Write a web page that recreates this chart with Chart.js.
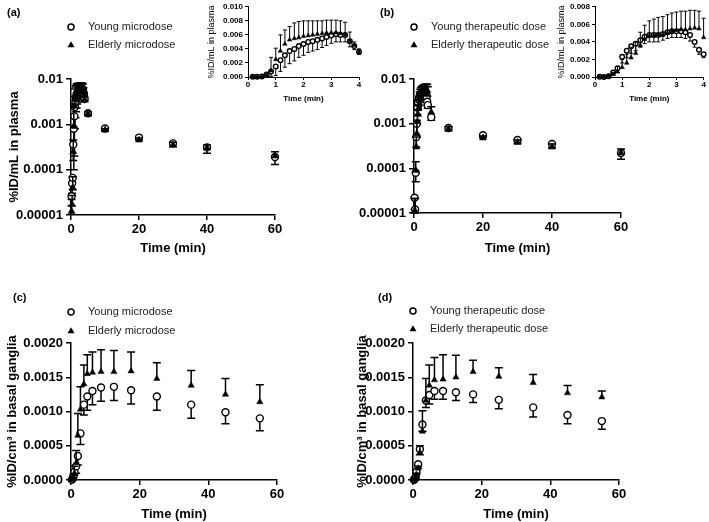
<!DOCTYPE html>
<html>
<head>
<meta charset="utf-8">
<script src="https://cdn.jsdelivr.net/npm/chart.js@4.4.1/dist/chart.umd.min.js"></script>
<style>
body { margin: 0; background: #fff; }
#wrap { position: relative; width: 709px; height: 522px; overflow: hidden; }
canvas { position: absolute; }
</style>
</head>
<body>
<div id="wrap">
  <canvas id="panelA" width="350" height="260" style="left:0;top:0"></canvas>
  <canvas id="panelB" width="354" height="260" style="left:355px;top:0"></canvas>
  <canvas id="panelC" width="355" height="252" style="left:0;top:270px"></canvas>
  <canvas id="panelD" width="354" height="252" style="left:355px;top:270px"></canvas>
  <canvas id="insetA" width="165" height="105" style="left:200px;top:0"></canvas>
  <canvas id="insetB" width="159" height="105" style="left:550px;top:0"></canvas>
</div>
<script>
// plasma time points (min)
const plasmaTime = [0.17, 0.33, 0.5, 0.67, 0.83, 1, 1.17, 1.33, 1.5, 1.67, 1.83, 2, 2.17, 2.33, 2.5, 2.67, 2.83, 3, 3.17, 3.33, 3.5, 3.67, 3.83, 4, 5, 10, 20, 30, 40, 60];
const insetCount = 24; // points up to 4 min shown in the insets

// (a) microdose plasma
const youngMicroPlasma = [0.000026, 0.00005, 0.000066, 0.00036, 0.0008, 0.0015, 0.0024, 0.0031, 0.0037, 0.0040, 0.0044, 0.0047, 0.0050, 0.0051, 0.0053, 0.0055, 0.0057, 0.0059, 0.0061, 0.0060, 0.0060, 0.0051, 0.0044, 0.0036, 0.00175, 0.00081, 0.00051, 0.00038, 0.00031, 0.00019];
const youngMicroPlasmaSD = [0.00001, 0.00002, 0.00003, 0.0002, 0.0007, 0.0013, 0.0016, 0.0017, 0.0018, 0.0017, 0.0016, 0.0016, 0.0015, 0.0014, 0.0014, 0.0013, 0.0012, 0.0011, 0.0011, 0.0010, 0.0010, 0.0008, 0.0005, 0.0004, 0.0002, 0.0001, 0.00006, 0.00006, 0.00008, 0.00006];
const elderlyMicroPlasma = [0.000012, 0.000017, 0.00004, 0.00025, 0.0009, 0.0025, 0.0037, 0.0047, 0.0053, 0.0055, 0.0056, 0.0058, 0.0059, 0.0060, 0.0061, 0.0062, 0.0063, 0.0063, 0.0063, 0.0062, 0.0060, 0.0051, 0.0045, 0.0035, 0.0017, 0.00075, 0.00045, 0.00035, 0.00030, 0.0002];
const elderlyMicroPlasmaSD = [0.00001, 0.00001, 0.00003, 0.0002, 0.0019, 0.0016, 0.0023, 0.0020, 0.0019, 0.0022, 0.0023, 0.0022, 0.0021, 0.0020, 0.0019, 0.0018, 0.0018, 0.0018, 0.0018, 0.0018, 0.0018, 0.0013, 0.0005, 0.0005, 0.0002, 0.00005, 0.00005, 0.00005, 0.00005, 0.00005];

// (b) therapeutic dose plasma
const youngTherPlasma = [0.000022, 0.000012, 0.00008, 0.0005, 0.0010, 0.0023, 0.0030, 0.0035, 0.0038, 0.0042, 0.0046, 0.0048, 0.0048, 0.0048, 0.0049, 0.0051, 0.0052, 0.0052, 0.0052, 0.0051, 0.0048, 0.0040, 0.0031, 0.0026, 0.0014, 0.0008, 0.00055, 0.00043, 0.00035, 0.00022];
const youngTherPlasmaSD = [0.00001, 0.000002, 0.00003, 0.0002, 0.0005, 0.0007, 0.0008, 0.0008, 0.0008, 0.0008, 0.0008, 0.0008, 0.0008, 0.0008, 0.0007, 0.0007, 0.0007, 0.0007, 0.0007, 0.0007, 0.0007, 0.0006, 0.0005, 0.0004, 0.0002, 0.0001, 0.00006, 0.00006, 0.00006, 0.00006];
const elderlyTherPlasma = [0.000011, 0.000011, 0.00009, 0.0003, 0.0006, 0.0011, 0.0016, 0.0022, 0.0027, 0.0036, 0.0043, 0.0047, 0.0047, 0.0048, 0.0048, 0.0050, 0.0052, 0.0053, 0.0054, 0.0054, 0.0055, 0.0056, 0.0055, 0.0045, 0.0018, 0.00075, 0.00048, 0.00038, 0.0003, 0.00022];
const elderlyTherPlasmaSD = [0.00001, 0.00001, 0.00005, 0.0002, 0.0006, 0.0009, 0.0010, 0.0012, 0.0013, 0.0015, 0.0016, 0.0017, 0.0019, 0.0020, 0.0021, 0.0021, 0.0021, 0.0021, 0.0021, 0.0021, 0.0021, 0.0020, 0.0020, 0.0022, 0.0006, 0.0001, 0.00005, 0.00005, 0.00005, 0.00005];

// basal ganglia frame mid-times (min)
const brainTime = [0.25, 0.5, 0.75, 1, 1.5, 2, 2.75, 3.75, 4.75, 6.25, 8.75, 12.5, 17.5, 25, 35, 45, 55];

// (c) microdose basal ganglia
const youngMicroBrain = [0.000005, 0.00002, 0.00007, 0.00012, 0.0002, 0.00035, 0.00068, 0.0011, 0.00122, 0.0013, 0.00135, 0.00136, 0.00131, 0.00122, 0.0011, 0.00099, 0.0009];
const youngMicroBrainSD = [0.000005, 0.00001, 0.00003, 0.00005, 0.0001, 0.00013, 0.00016, 0.00015, 0.0002, 0.0002, 0.0002, 0.0002, 0.0002, 0.0002, 0.0002, 0.00017, 0.00018];
const elderlyMicroBrain = [0.000005, 0.00002, 0.00004, 0.0001, 0.00025, 0.00065, 0.00103, 0.0014, 0.00155, 0.00157, 0.00158, 0.00158, 0.00159, 0.00148, 0.00138, 0.00125, 0.00114];
const elderlyMicroBrainSD = [0, 0.00001, 0.00003, 0.0001, 0.00018, 0.00032, 0.00033, 0.00028, 0.00028, 0.0003, 0.00032, 0.00031, 0.00028, 0.00023, 0.00022, 0.00023, 0.00025];

// (d) therapeutic dose basal ganglia
const youngTherBrain = [0.000003, 0.00001, 0.00004, 0.00012, 0.00023, 0.00045, 0.00081, 0.00116, 0.00124, 0.0013, 0.0013, 0.00128, 0.00125, 0.00117, 0.00106, 0.00095, 0.00086];
const youngTherBrainSD = [0, 0.000005, 0.00002, 0.00004, 0.00006, 0.00008, 0.0001, 0.0001, 0.00013, 0.00012, 0.00012, 0.00012, 0.00012, 0.00013, 0.00014, 0.00013, 0.00012];
const elderlyTherBrain = [0.000003, 0.00001, 0.00003, 0.00008, 0.00017, 0.0004, 0.00071, 0.00116, 0.00138, 0.00146, 0.00147, 0.0015, 0.00158, 0.00151, 0.00142, 0.00127, 0.00121];
const elderlyTherBrainSD = [0, 0.000005, 0.00001, 0.00002, 0.00003, 0.0001, 0.0003, 0.00032, 0.0003, 0.00033, 0.00036, 0.00032, 0.00017, 0.00013, 0.00012, 0.00011, 0.00009];

// tick values and labels
const timeTicks = [0, 20, 40, 60];
const insetTimeTicks = [0, 1, 2, 3, 4];
const logTicks = [0.00001, 0.0001, 0.001, 0.01];
const logTickLabels = ['0.00001', '0.0001', '0.001', '0.01'];
const brainTicks = [0, 0.0005, 0.001, 0.0015, 0.002];
const brainTickLabels = ['0.0000', '0.0005', '0.0010', '0.0015', '0.0020'];
const insetTicksA = [0, 0.002, 0.004, 0.006, 0.008, 0.010];
const insetTickLabelsA = ['0.000', '0.002', '0.004', '0.006', '0.008', '0.010'];
const insetTicksB = [0, 0.002, 0.004, 0.006, 0.008];
const insetTickLabelsB = ['0.000', '0.002', '0.004', '0.006', '0.008'];

Chart.defaults.font.family = '"Liberation Sans", Arial, sans-serif';
Chart.defaults.color = '#000';

// error bars: young drawn downward, elderly upward (drawn before each dataset's markers)
const errorBars = {
    id: 'errorBars',
    beforeDatasetDraw(chart, args, opts) {
        const ds = chart.data.datasets[args.index];
        if (!ds.errors) return;
        const ctx = chart.ctx, xs = chart.scales.x, ys = chart.scales.y;
        ctx.save();
        ctx.strokeStyle = '#000';
        ctx.lineWidth = opts.lineWidth;
        ds.data.forEach((p, i) => {
            const e = ds.errors[i];
            if (!e) return;
            let end = p.y + ds.errorDir * e;
            if (end < ys.min) end = ys.min;
            const x = xs.getPixelForValue(p.x);
            const y0 = ys.getPixelForValue(p.y);
            const y1 = ys.getPixelForValue(end);
            ctx.beginPath();
            ctx.moveTo(x, y0);
            ctx.lineTo(x, y1);
            ctx.moveTo(x - opts.cap, y1);
            ctx.lineTo(x + opts.cap, y1);
            ctx.stroke();
        });
        ctx.restore();
    }
};

// panel letter and a stacked legend above the plot
const panelText = {
    id: 'panelText',
    afterDraw(chart, args, opts) {
        if (!opts.label) return;
        const ctx = chart.ctx, area = chart.chartArea;
        ctx.save();
        ctx.fillStyle = '#000';
        ctx.textBaseline = 'middle';
        ctx.font = 'bold 11px "Liberation Sans", Arial, sans-serif';
        ctx.fillText(opts.label, opts.labelX, opts.labelY);
        ctx.font = '11px "Liberation Sans", Arial, sans-serif';
        chart.data.datasets.forEach((ds, i) => {
            const x = area.left, y = area.top + opts.legendY[i];
            ctx.beginPath();
            if (ds.pointStyle === 'triangle') {
                ctx.moveTo(x, y - 3.8);
                ctx.lineTo(x + 3.5, y + 2.3);
                ctx.lineTo(x - 3.5, y + 2.3);
                ctx.closePath();
                ctx.fillStyle = '#000';
                ctx.fill();
            } else {
                ctx.arc(x, y, 3, 0, Math.PI * 2);
                ctx.lineWidth = 1.5;
                ctx.strokeStyle = '#000';
                ctx.stroke();
            }
            ctx.fillStyle = '#222';
            ctx.fillText(ds.label, x + 17, y);
        });
        ctx.restore();
    }
};

function points(xs, ys) {
    return xs.map((x, i) => ({ x: x, y: ys[i] }));
}

function series(label, style, xs, ys, errs, dir, r) {
    const young = style === 'circle';
    return {
        label: label,
        data: points(xs, ys),
        errors: errs,
        errorDir: dir,
        pointStyle: style,
        pointRadius: young ? r : r + 0.6,
        backgroundColor: young ? '#fff' : '#000',
        borderColor: '#000',
        borderWidth: young ? 1.4 : 0.5,
        order: young ? 1 : 0,
        clip: false
    };
}

function makeChart(id, c) {
    const small = c.small;
    const lw = small ? 1 : 1.5;
    const tickFont = { size: small ? 8 : 13, weight: 'bold' };
    return new Chart(document.getElementById(id), {
        type: 'scatter',
        data: { datasets: c.datasets },
        options: {
            responsive: false,
            animation: false,
            events: [],
            layout: { padding: c.padding },
            plugins: {
                legend: { display: false },
                tooltip: { enabled: false },
                errorBars: { lineWidth: lw, cap: small ? 2 : 4 },
                panelText: c.text || {}
            },
            scales: {
                x: {
                    type: 'linear',
                    min: c.xTicks[0],
                    max: c.xTicks[c.xTicks.length - 1],
                    afterBuildTicks: s => { s.ticks = c.xTicks.map(v => ({ value: v })); },
                    afterFit: s => { s.height = c.xHeight; },
                    grid: { drawOnChartArea: false, tickLength: small ? 3 : 5, color: '#000', lineWidth: lw },
                    border: { color: '#000', width: lw },
                    ticks: { color: '#000', font: tickFont, padding: small ? 0 : 2, maxRotation: 0, autoSkip: false },
                    title: { display: true, text: 'Time (min)', color: '#000', font: tickFont, padding: { top: 0, bottom: c.xTitlePad } }
                },
                y: {
                    type: c.yType,
                    min: c.yTicks[0],
                    max: c.yTicks[c.yTicks.length - 1],
                    afterBuildTicks: s => { s.ticks = c.yTicks.map(v => ({ value: v, major: true })); },
                    afterFit: s => { s.width = c.yWidth; },
                    grid: { drawOnChartArea: false, tickLength: small ? 3 : 5, color: '#000', lineWidth: lw },
                    border: { color: '#000', width: lw },
                    ticks: { color: '#000', font: tickFont, padding: small ? 2 : 3, autoSkip: false,
                        callback: (v, i) => c.yLabels[i] },
                    title: {
                        display: !!c.yTitle,
                        text: c.yTitle,
                        color: '#000',
                        font: small ? { size: 9, weight: 'normal' } : { size: 13, weight: 'bold' },
                        padding: { top: c.yTitlePad, bottom: 0 }
                    }
                }
            }
        },
        plugins: [errorBars, panelText]
    });
}

const plasmaTitle = '%ID/mL in plasma';
const brainTitle = '%ID/cm\u00b3 in basal ganglia';

// (a)
makeChart('panelA', {
    datasets: [
        series('Young microdose', 'circle', plasmaTime, youngMicroPlasma, youngMicroPlasmaSD, -1, 3.5),
        series('Elderly microdose', 'triangle', plasmaTime, elderlyMicroPlasma, elderlyMicroPlasmaSD, 1, 3.5)
    ],
    padding: { left: 0, top: 79, right: 75, bottom: 0 },
    xTicks: timeTicks, xHeight: 45, xTitlePad: 4,
    yType: 'logarithmic', yTicks: logTicks, yLabels: logTickLabels, yWidth: 71,
    yTitle: plasmaTitle, yTitlePad: 7,
    text: { label: '(a)', labelX: 7, labelY: 13, legendY: [-52, -34] }
});

// (b)
makeChart('panelB', {
    datasets: [
        series('Young therapeutic dose', 'circle', plasmaTime, youngTherPlasma, youngTherPlasmaSD, -1, 3.5),
        series('Elderly therapeutic dose', 'triangle', plasmaTime, elderlyTherPlasma, elderlyTherPlasmaSD, 1, 3.5)
    ],
    padding: { left: 0, top: 79, right: 88, bottom: 0 },
    xTicks: timeTicks, xHeight: 47, xTitlePad: 4,
    yType: 'logarithmic', yTicks: logTicks, yLabels: logTickLabels, yWidth: 59,
    yTitle: '', yTitlePad: 0,
    text: { label: '(b)', labelX: 25, labelY: 13, legendY: [-52, -34] }
});

// (c)
makeChart('panelC', {
    datasets: [
        series('Young microdose', 'circle', brainTime, youngMicroBrain, youngMicroBrainSD, -1, 3.5),
        series('Elderly microdose', 'triangle', brainTime, elderlyMicroBrain, elderlyMicroBrainSD, 1, 3)
    ],
    padding: { left: 0, top: 73, right: 78, bottom: 0 },
    xTicks: timeTicks, xHeight: 42, xTitlePad: 0,
    yType: 'linear', yTicks: brainTicks, yLabels: brainTickLabels, yWidth: 71,
    yTitle: brainTitle, yTitlePad: 5,
    text: { label: '(c)', labelX: 13, labelY: 28, legendY: [-31, -12] }
});

// (d)
makeChart('panelD', {
    datasets: [
        series('Young therapeutic dose', 'circle', brainTime, youngTherBrain, youngTherBrainSD, -1, 3.5),
        series('Elderly therapeutic dose', 'triangle', brainTime, elderlyTherBrain, elderlyTherBrainSD, 1, 3)
    ],
    padding: { left: 0, top: 73, right: 90, bottom: 0 },
    xTicks: timeTicks, xHeight: 42, xTitlePad: 0,
    yType: 'linear', yTicks: brainTicks, yLabels: brainTickLabels, yWidth: 58,
    yTitle: brainTitle, yTitlePad: 0,
    text: { label: '(d)', labelX: 23, labelY: 28, legendY: [-32, -14] }
});

// insets: first 4 minutes on a linear scale
const insetTime = plasmaTime.slice(0, insetCount);

makeChart('insetA', {
    small: true,
    datasets: [
        series('Young microdose', 'circle', insetTime, youngMicroPlasma.slice(0, insetCount), youngMicroPlasmaSD, -1, 2.3),
        series('Elderly microdose', 'triangle', insetTime, elderlyMicroPlasma.slice(0, insetCount), elderlyMicroPlasmaSD, 1, 2)
    ],
    padding: { left: 0, top: 4, right: 6, bottom: 0 },
    xTicks: insetTimeTicks, xHeight: 28, xTitlePad: 1,
    yType: 'linear', yTicks: insetTicksA, yLabels: insetTickLabelsA, yWidth: 48,
    yTitle: plasmaTitle, yTitlePad: 6
});

makeChart('insetB', {
    small: true,
    datasets: [
        series('Young therapeutic dose', 'circle', insetTime, youngTherPlasma.slice(0, insetCount), youngTherPlasmaSD, -1, 2.3),
        series('Elderly therapeutic dose', 'triangle', insetTime, elderlyTherPlasma.slice(0, insetCount), elderlyTherPlasmaSD, 1, 2)
    ],
    padding: { left: 0, top: 3, right: 2, bottom: 0 },
    xTicks: insetTimeTicks, xHeight: 28, xTitlePad: 1,
    yType: 'linear', yTicks: insetTicksB, yLabels: insetTickLabelsB, yWidth: 45,
    yTitle: plasmaTitle, yTitlePad: 6
});
</script>
</body>
</html>
